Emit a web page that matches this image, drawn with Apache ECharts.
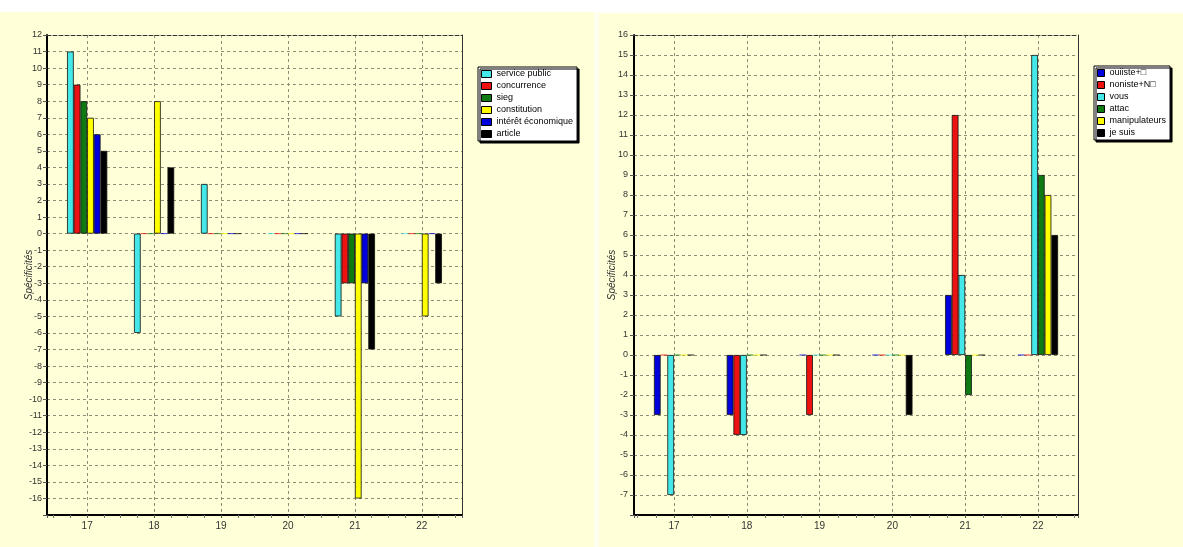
<!DOCTYPE html>
<html><head><meta charset="utf-8">
<script src="https://cdn.jsdelivr.net/npm/echarts@6/dist/echarts.min.js"></script>
<style>html,body{margin:0;padding:0;background:#fff}#c{width:1183px;height:547px}</style>
</head><body><div id="c"></div>
<script>
// ---- data ----
var categories = [17, 18, 19, 20, 21, 22];

var leftNames = ['service public', 'concurrence', 'sieg', 'constitution', 'intérêt économique', 'article'];
var servicePublic = [11, -6, 3, 0, -5, 0];
var concurrence   = [9, 0, 0, 0, -3, 0];
var sieg          = [8, 0, 0, 0, -3, 0];
var constitution  = [7, 8, 0, 0, -16, -5];
var interetEco    = [6, 0, 0, 0, -3, 0];
var article       = [5, 4, 0, 0, -7, -3];

var rightNames = ['ouiiste+\u25A1', 'noniste+N\u25A1', 'vous', 'attac', 'manipulateurs', 'je suis'];
var ouiiste       = [-3, -3, 0, 0, 3, 0];
var noniste       = [0, -4, -3, 0, 12, 0];
var vous          = [-7, -4, 0, 0, 4, 15];
var attac         = [0, 0, 0, 0, -2, 9];
var manipulateurs = [0, 0, 0, 0, 0, 8];
var jeSuis        = [0, 0, 0, -3, 0, 6];

var leftYLimits = [-17, 12];
var rightYLimits = [-8, 16];

// ---- styles ----
var CYAN = '#44e8e8', RED = '#ee1111', GREEN = '#0f7a12', YELLOW = '#ffff00', BLUE = '#0000dd', BLACK = '#000000';
var leftColors = [CYAN, RED, GREEN, YELLOW, BLUE, BLACK];
var rightColors = [BLUE, RED, CYAN, GREEN, YELLOW, BLACK];
var leftValues = [servicePublic, concurrence, sieg, constitution, interetEco, article];
var rightValues = [ouiiste, noniste, vous, attac, manipulateurs, jeSuis];

var FONT = 'Liberation Sans, Arial, sans-serif';
var gridColor = '#8f8c78';

function items(vals, color) {
  return categories.map(function (c, i) {
    var it = { value: [c, vals[i]] };
    if (vals[i] === 0) it.itemStyle = { borderColor: color, opacity: 0.6 };
    return it;
  });
}

function xAxis(gi, min, max) {
  return {
    type: 'value', gridIndex: gi, min: min, max: max, splitNumber: 6,
    axisLine: { show: true, onZero: false, lineStyle: { color: '#000', width: 2 } },
    axisTick: { show: true, length: 3, lineStyle: { color: '#555' } },
    minorTick: { show: true, splitNumber: 4, length: 3, lineStyle: { color: '#777' } },
    axisLabel: {
      color: '#333', fontFamily: FONT, fontSize: 10, margin: 6,
      formatter: function (v) { return Math.abs(v - Math.round(v)) < 1e-6 ? String(Math.round(v)) : ''; }
    },
    splitLine: { show: true, lineStyle: { color: gridColor, type: [3, 3], width: 1 } }
  };
}
function topBorder(gi, min, max) {
  return {
    type: 'value', gridIndex: gi, min: min, max: max, position: 'top',
    axisLine: { show: true, onZero: false, lineStyle: { color: '#333', width: 1, type: [4, 2] } },
    axisTick: { show: false }, axisLabel: { show: false }, splitLine: { show: false }
  };
}
function yAxis(gi, lim, gap, margin) {
  return {
    type: 'value', gridIndex: gi, min: lim[0], max: lim[1], interval: 1,
    name: 'Spécificités', nameLocation: 'middle', nameGap: gap, nameMoveOverlap: false,
    nameTextStyle: { fontStyle: 'italic', fontFamily: FONT, fontSize: 10, color: '#333' },
    axisLine: { show: true, onZero: false, lineStyle: { color: '#000', width: 2 } },
    axisTick: { show: true, length: 4, lineStyle: { color: '#555' } },
    axisLabel: {
      color: '#333', fontFamily: FONT, fontSize: 9, margin: margin,
      formatter: function (v) { return v === lim[0] ? '' : String(v); }
    },
    splitLine: { show: true, lineStyle: { color: gridColor, type: [3, 3], width: 1 } }
  };
}
function rightBorder(gi, lim) {
  return {
    type: 'value', gridIndex: gi, min: lim[0], max: lim[1], interval: 1, position: 'right',
    axisLine: { show: true, onZero: false, lineStyle: { color: '#333', width: 1 } },
    axisTick: { show: false }, axisLabel: { show: false }, splitLine: { show: false }
  };
}

var series = [];
leftNames.forEach(function (n, i) {
  series.push({
    name: n, type: 'bar', xAxisIndex: 0, yAxisIndex: 0, data: items(leftValues[i], leftColors[i]),
    barWidth: 6.7, barGap: '0%',
    itemStyle: { color: leftColors[i], borderColor: '#111', borderWidth: 0.8 }
  });
});
rightNames.forEach(function (n, i) {
  series.push({
    name: n, type: 'bar', xAxisIndex: 2, yAxisIndex: 2, data: items(rightValues[i], rightColors[i]),
    barWidth: 6.7, barGap: '0%',
    itemStyle: { color: rightColors[i], borderColor: '#111', borderWidth: 0.8 }
  });
});

function legend(names, colors, left, top, iw, ih) {
  return {
    data: names.map(function (n, i) { return { name: n, itemStyle: { color: colors[i], borderColor: '#000', borderWidth: 1 } }; }),
    orient: 'vertical', left: left, top: top, icon: 'rect',
    itemWidth: iw, itemHeight: ih, itemGap: 0,
    backgroundColor: '#ffffff', borderColor: '#000', borderWidth: 1,
    shadowColor: '#000', shadowBlur: 0, shadowOffsetX: 2, shadowOffsetY: 2,
    padding: [1, 4, 1, 3], selectedMode: false,
    textStyle: { fontFamily: FONT, fontSize: 9, color: '#000', lineHeight: 12 }
  };
}

var chart = echarts.init(document.getElementById('c'), null, { renderer: 'canvas' });
chart.setOption({
  backgroundColor: '#ffffff',
  animation: false,
  graphic: [
    { type: 'rect', z: -10, silent: true, shape: { x: 0, y: 12, width: 594, height: 535 }, style: { fill: '#ffffd8' } },
    { type: 'rect', z: -10, silent: true, shape: { x: 594, y: 12, width: 5, height: 535 }, style: { fill: '#fffff0' } },
    { type: 'rect', z: -10, silent: true, shape: { x: 599, y: 13, width: 584, height: 534 }, style: { fill: '#ffffd8' } }
  ],
  grid: [
    { left: 47, top: 35, width: 415, height: 480, containLabel: false },
    { left: 634, top: 35, width: 444, height: 480, containLabel: false }
  ],
  xAxis: [xAxis(0, 16.4, 22.6), topBorder(0, 16.4, 22.6), xAxis(1, 16.45, 22.55), topBorder(1, 16.45, 22.55)],
  yAxis: [yAxis(0, leftYLimits, 13, 5), rightBorder(0, leftYLimits), yAxis(1, rightYLimits, 17, 6), rightBorder(1, rightYLimits)],
  legend: [legend(leftNames, leftColors, 478, 67, 10, 7), legend(rightNames, rightColors, 1094, 66, 7, 7)],
  series: series
});
</script></body></html>
